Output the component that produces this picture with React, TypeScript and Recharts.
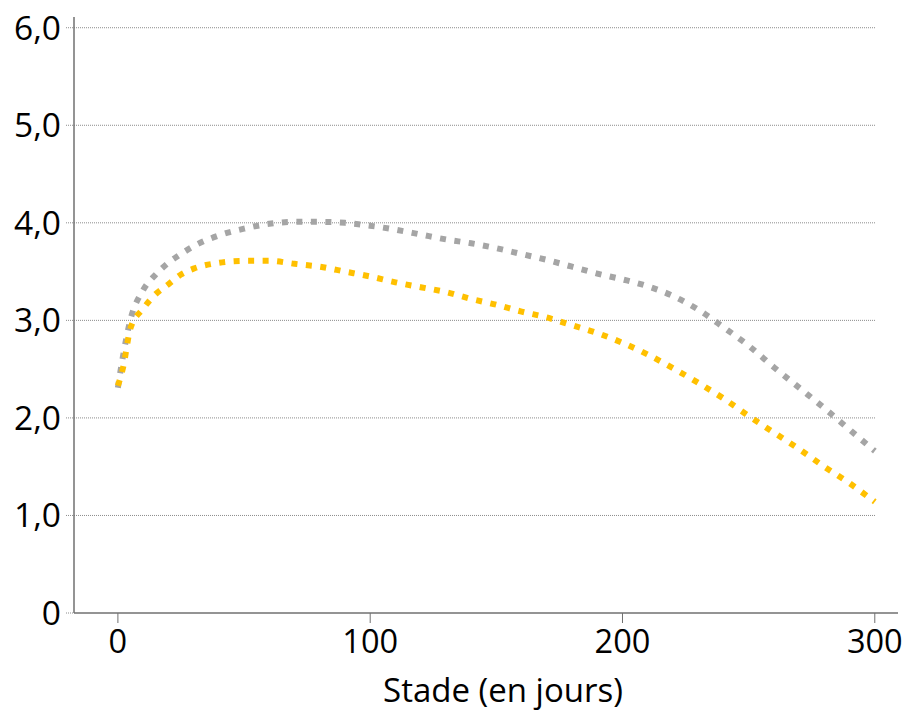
import { LineChart, Line, XAxis, YAxis, ReferenceLine, Label } from 'recharts'

const days = [0, 2, 5, 10, 15, 20, 25, 30, 40, 50, 60, 70, 80, 90, 100, 110, 120, 130, 140, 150, 160, 170, 180, 190, 200, 210, 220, 230, 240, 250, 260, 270, 280, 290, 300]
const graySeries = [2.31, 2.63, 3.01, 3.31, 3.47, 3.59, 3.68, 3.76, 3.87, 3.94, 3.99, 4.01, 4.01, 4.0, 3.97, 3.93, 3.88, 3.83, 3.79, 3.74, 3.68, 3.62, 3.55, 3.48, 3.42, 3.35, 3.25, 3.11, 2.93, 2.74, 2.52, 2.31, 2.1, 1.88, 1.66]
const yellowSeries = [2.33, 2.51, 2.92, 3.12, 3.27, 3.37, 3.47, 3.53, 3.59, 3.61, 3.61, 3.58, 3.55, 3.5, 3.45, 3.39, 3.34, 3.29, 3.22, 3.16, 3.09, 3.03, 2.95, 2.87, 2.77, 2.65, 2.51, 2.36, 2.2, 2.02, 1.85, 1.68, 1.5, 1.33, 1.14]
const xTicks = [0, 100, 200, 300]
const yTicks = [0, 1, 2, 3, 4, 5, 6]

const data = days.map((d, i) => ({ day: d, gray: graySeries[i], yellow: yellowSeries[i] }))

const font = '"Open Sans", sans-serif'
const axisColor = '#707070'
const gridColor = '#8c8c8c'

const fmtY = (v: number) => (v === 0 ? '0' : v.toFixed(1).replace('.', ','))

export default function App() {
  return (
    <div style={{ position: 'absolute', left: 0, top: 0, background: '#fff' }}>
      <LineChart width={902} height={711} data={data} margin={{ top: 17, right: 4, bottom: 0, left: 0 }}>
        <XAxis
          dataKey="day"
          type="number"
          domain={[-17.4, 309.2]}
          allowDataOverflow
          ticks={xTicks}
          height={98}
          axisLine={{ stroke: axisColor, strokeWidth: 1.5 }}
          tickLine={{ stroke: axisColor, strokeWidth: 1 }}
          tickSize={10}
          tickMargin={7}
          tick={{ fontSize: 32.5, fill: '#000', fontFamily: font }}
        >
          <Label
            value="Stade (en jours)"
            position="insideBottom"
            offset={9}
            dx={17}
            style={{ fontSize: 33, fill: '#000', fontFamily: font }}
          />
        </XAxis>
        <YAxis
          type="number"
          domain={[0, 6.11]}
          allowDataOverflow
          ticks={yTicks}
          width={74}
          tickFormatter={fmtY}
          axisLine={{ stroke: axisColor, strokeWidth: 1.5 }}
          tickLine={{ stroke: gridColor, strokeDasharray: '1 1' }}
          tickSize={8}
          tickMargin={5}
          tick={{ fontSize: 33.5, fill: '#000', fontFamily: font }}
        />
        {yTicks.slice(1).map((t) => (
          <ReferenceLine
            key={t}
            segment={[{ x: -17.4, y: t }, { x: 300.4, y: t }]}
            stroke={gridColor}
            strokeDasharray="1 1"
          />
        ))}
        <Line
          type="monotone"
          dataKey="gray"
          stroke="#A5A5A5"
          strokeWidth={6}
          strokeDasharray="6 8.5"
          dot={false}
          isAnimationActive={false}
        />
        <Line
          type="monotone"
          dataKey="yellow"
          stroke="#FFC000"
          strokeWidth={6}
          strokeDasharray="6 8.5"
          dot={false}
          isAnimationActive={false}
        />
      </LineChart>
    </div>
  )
}
